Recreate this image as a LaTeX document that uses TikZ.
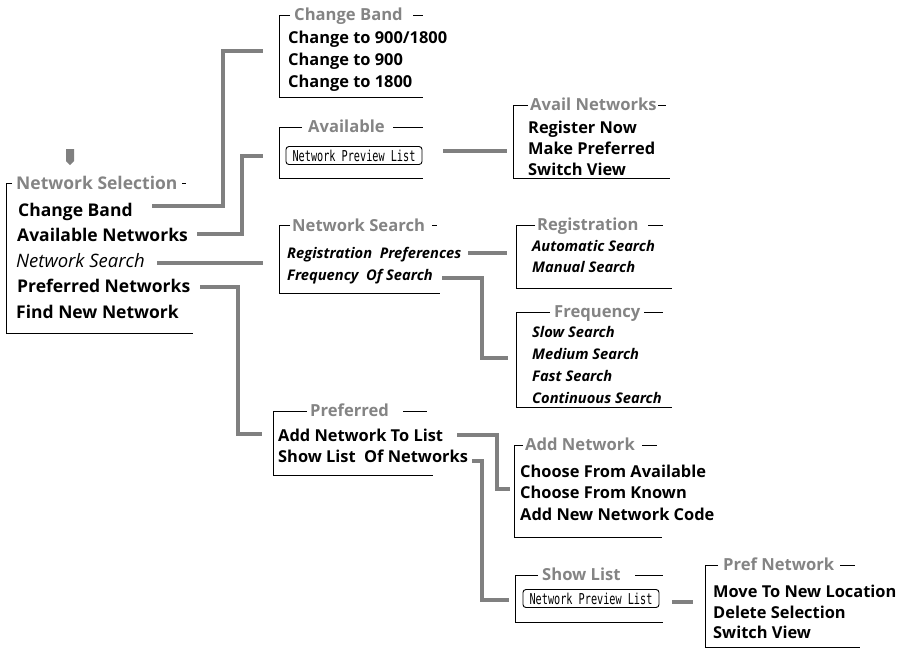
\documentclass[tikz,border=0pt]{standalone}
\usepackage{fontspec}
\setmainfont{Open Sans}
\newfontfamily\lcdfont{DejaVu Sans Mono}
\definecolor{tgray}{RGB}{132,132,132}
\definecolor{cgray}{RGB}{128,128,128}
\newcommand{\lcdtext}[1]{\scalebox{0.68}[1]{\lcdfont\fontsize{15}{15}\selectfont #1}}
\tikzset{
  conn/.style={draw=cgray, line width=4.5pt},
  frame/.style={draw=black, line width=1pt},
  ttl/.style={anchor=base west, inner sep=0pt, text=tgray, font=\bfseries\fontsize{16.6}{18}\selectfont},
  bigttl/.style={ttl, font=\bfseries\fontsize{17.5}{18}\selectfont},
  itm/.style={anchor=base west, inner sep=0pt, font=\bfseries\fontsize{16.4}{17}\selectfont},
  bigitm/.style={itm, font=\bfseries\fontsize{17.5}{18}\selectfont},
  bigit/.style={itm, font=\itshape\fontsize{18.5}{19}\selectfont},
  itl/.style={itm, font=\bfseries\itshape\fontsize{14.7}{15}\selectfont},
  prev/.style={draw=black, line width=0.9pt, rounded corners=3pt, inner sep=0pt,
    minimum width=136pt, minimum height=18pt}
}
\begin{document}
\begin{tikzpicture}[x=1pt,y=-1pt]
\useasboundingbox (0,0) rectangle (902,649);
% down marker
\fill[cgray] (66,149) -- (74,149) -- (74,161) -- (70,165) -- (66,161) -- cycle;

% ---- Network Selection
\draw[frame] (12,183) -- (6,183) -- (6,333) -- (193,333);
\draw[frame] (182,183) -- (186,183);
\node[bigttl] (nsT) at (16,189) {Network Selection};
\node[bigitm] (ns1) at (18,216) {Change Band};
\node[bigitm] (ns2) at (17,241) {Available Networks};
\node[bigit]  (ns3) at (16,267) {Network Search};
\node[bigitm] (ns4) at (17,292) {Preferred Networks};
\node[bigitm] (ns5) at (16,318) {Find New Network};

% ---- Change Band
\draw[frame] (290,15) -- (279,15) -- (279,97) -- (423,97);
\draw[frame] (413,15) -- (423,15);
\node[ttl] (cbT) at (294,20) {Change Band};
\node[itm] (cb1) at (288,43) {Change to 900/1800};
\node[itm] (cb2) at (288,65) {Change to 900};
\node[itm] (cb3) at (288,87) {Change to 1800};

% ---- Available
\draw[frame] (302,127) -- (279,127) -- (279,178) -- (423,178);
\draw[frame] (393,127) -- (423,127);
\node[ttl] (avT) at (308,132) {Available};
\node[prev] (avP) at (354,155.5) {\lcdtext{Network Preview List}};

% ---- Avail Networks
\draw[frame] (528,105) -- (513,105) -- (513,178) -- (670,178);
\draw[frame] (658,105) -- (666,105);
\node[ttl] (anT) at (530,110) {Avail Networks};
\node[itm] (an1) at (528,133) {Register Now};
\node[itm] (an2) at (528,154) {Make Preferred};
\node[itm] (an3) at (528,175) {Switch View};

% ---- Network Search
\draw[frame] (290,225) -- (279,225) -- (279,293) -- (440,293);
\draw[frame] (432,225) -- (437,225);
\node[ttl] (nsrT) at (292,231) {Network Search};
\node[itl] (nsr1) at (287,258) {Registration\ \ Preferences};
\node[itl] (nsr2) at (287,280) {Frequency\ \ Of Search};

% ---- Registration
\draw[frame] (535,225) -- (516,225) -- (516,288) -- (672,288);
\draw[frame] (648,225) -- (663,225);
\node[ttl] (rgT) at (537,230) {Registration};
\node[itl] (rg1) at (532,251) {Automatic Search};
\node[itl] (rg2) at (532,272) {Manual Search};

% ---- Frequency
\draw[frame] (550,312) -- (516,312) -- (516,407) -- (672,407);
\draw[frame] (644,312) -- (663,312);
\node[ttl] (fqT) at (554,317) {Frequency};
\node[itl] (fq1) at (532,337) {Slow Search};
\node[itl] (fq2) at (532,359) {Medium Search};
\node[itl] (fq3) at (532,381) {Fast Search};
\node[itl] (fq4) at (532,403) {Continuous Search};

% ---- Preferred
\draw[frame] (307,411) -- (273,411) -- (273,475) -- (433,475);
\draw[frame] (403,411) -- (427,411);
\node[ttl] (pfT) at (310,416) {Preferred};
\node[itm] (pf1) at (278,441) {Add Network To List};
\node[itm] (pf2) at (278,462) {Show List\ \ Of Networks};

% ---- Add Network
\draw[frame] (523,445) -- (514,445) -- (514,537) -- (662,537);
\draw[frame] (642,445) -- (657,445);
\node[ttl] (adT) at (525,450) {Add Network};
\node[itm] (ad1) at (520,477) {Choose From Available};
\node[itm] (ad2) at (520,498) {Choose From Known};
\node[itm] (ad3) at (520,520) {Add New Network Code};

% ---- Show List
\draw[frame] (538,575) -- (515,575) -- (515,622) -- (663,622);
\draw[frame] (635,575) -- (663,575);
\node[ttl] (slT) at (542,580) {Show List};
\node[prev] (slP) at (591,598.5) {\lcdtext{Network Preview List}};

% ---- Pref Network
\draw[frame] (718,565) -- (705,565) -- (705,647) -- (860,647);
\draw[frame] (840,565) -- (855,565);
\node[ttl] (pnT) at (723,570) {Pref Network};
\node[itm] (pn1) at (713,597) {Move To New Location};
\node[itm] (pn2) at (713,618) {Delete Selection};
\node[itm] (pn3) at (713,638) {Switch View};

% ---- connectors
\coordinate (c1a) at (152,206); \coordinate (c1b) at (263,51);
\coordinate (c2a) at (197,234); \coordinate (c2b) at (263,156);
\coordinate (c3a) at (157,263); \coordinate (c3b) at (263,263);
\coordinate (c4a) at (200,287); \coordinate (c4b) at (262,434);
\coordinate (c5a) at (443,151); \coordinate (c5b) at (507,151);
\coordinate (c6a) at (468,253); \coordinate (c6b) at (507,253);
\coordinate (c7a) at (442,278); \coordinate (c7b) at (508,358);
\coordinate (c8a) at (457,435); \coordinate (c8b) at (510,489);
\coordinate (c9a) at (472,461); \coordinate (c9b) at (509,600);
\coordinate (c10a) at (672,602); \coordinate (c10b) at (693,602);
\draw[conn] (c1a) -- (223,206) |- (c1b);
\draw[conn] (c2a) -- (242,234) |- (c2b);
\draw[conn] (c3a) -- (c3b);
\draw[conn] (c4a) -- (238,287) |- (c4b);
\draw[conn] (c5a) -- (c5b);
\draw[conn] (c6a) -- (c6b);
\draw[conn] (c7a) -- (482,278) |- (c7b);
\draw[conn] (c8a) -- (497,435) |- (c8b);
\draw[conn] (c9a) -- (482,461) |- (c9b);
\draw[conn] (c10a) -- (c10b);
\end{tikzpicture}
\end{document}
